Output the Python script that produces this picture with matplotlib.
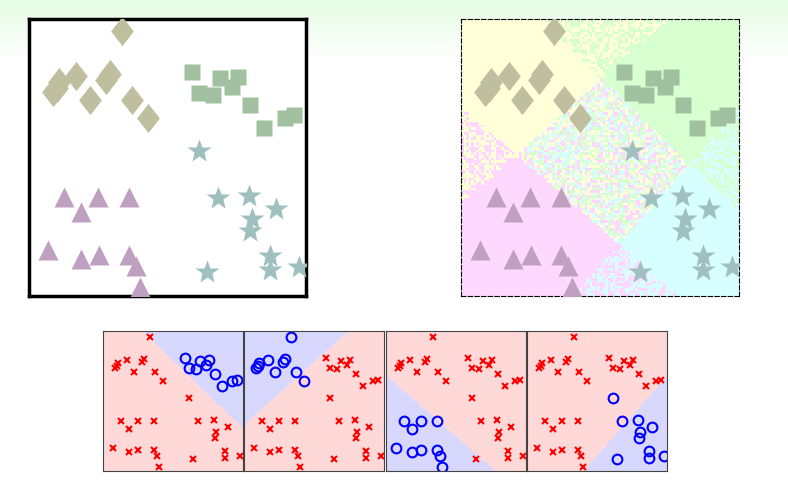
import numpy as np
import matplotlib
matplotlib.use("Agg")
import matplotlib.pyplot as plt
from matplotlib.colors import ListedColormap, to_rgb

# data (normalized 0..100 coordinates)
diam_x = [33.6, 8.6, 10.7, 17.1, 27.9, 29.3, 22.1, 37.1, 42.9, 10.0]
diam_y = [95.7, 73.6, 77.1, 79.3, 77.9, 80.0, 70.7, 70.7, 64.3, 75.0]
sq_x = [58.8, 69.0, 75.5, 73.3, 61.4, 66.4, 79.8, 84.8, 92.4, 95.7]
sq_y = [80.9, 78.7, 79.1, 75.5, 73.3, 72.6, 69.0, 60.6, 64.3, 65.3]
tri_x = [12.6, 24.9, 36.1, 18.8, 6.9, 18.8, 25.3, 36.1, 38.6, 40.1]
tri_y = [35.7, 35.7, 35.7, 30.3, 16.6, 13.4, 14.8, 14.8, 10.8, 3.2]
star_x = [61.4, 68.2, 79.4, 89.2, 80.5, 79.8, 87.0, 87.0, 97.5, 64.3]
star_y = [52.3, 35.4, 36.1, 31.4, 27.8, 23.5, 14.4, 9.4, 10.5, 8.7]

diamond = [(0, 1), (0.78, 0), (0, -1), (-0.78, 0), (0, 1)]
markers = {'diam': (diamond, '#bfbf9f', 21), 'sq': ('s', '#a0c0a0', 11),
           'tri': ('^', '#c0a0c0', 15), 'star': ('*', '#a0c0c0', 18)}
top_sets = [('diam', diam_x, diam_y), ('sq', sq_x, sq_y), ('tri', tri_x, tri_y), ('star', star_x, star_y)]
region_cols = {'diam': '#ffffd8', 'sq': '#d8ffd0', 'tri': '#ffd8ff', 'star': '#d8ffff'}

allx = np.array(diam_x + sq_x + tri_x + star_x, float)
ally = np.array(diam_y + sq_y + tri_y + star_y, float)
labels = np.repeat(np.arange(4), 10)  # 0 diam,1 sq,2 tri,3 star
A = np.c_[allx, ally, np.ones_like(allx)]
W = {}
for k in range(4):
    t = np.where(labels == k, 1.0, -1.0)
    W[k] = np.linalg.lstsq(A, t, rcond=None)[0]

fig = plt.figure(figsize=(7.88, 4.88), dpi=100)
bg = fig.add_axes([0, 0, 1, 1], zorder=-10)
grad = np.ones((488, 1, 3))
top = np.array(to_rgb('#e6fce4'))
for i in range(488):
    f = min(i / 60.0, 1.0)
    grad[i, 0] = top * (1 - f) + np.ones(3) * f
bg.imshow(grad, aspect='auto', extent=[0, 1, 0, 1])
bg.axis('off')

def draw_top(ax):
    for name, xs, ys in top_sets:
        m, c, s = markers[name]
        ax.plot(xs, ys, marker=m, color=c, ms=s, mec='none', ls='none', zorder=3)
    ax.set_xlim(0, 100); ax.set_ylim(0, 100)
    ax.set_xticks([]); ax.set_yticks([])

ax1 = fig.add_axes([29/788, 192/488, 277/788, 277/488])
draw_top(ax1)
for s in ax1.spines.values():
    s.set_linewidth(2.5)

ax2 = fig.add_axes([461/788, 192/488, 278/788, 277/488])
n = 110
g = (np.arange(n) + 0.5) / n * 100
GX, GY = np.meshgrid(g, g)
scores = np.stack([W[k][0]*GX + W[k][1]*GY + W[k][2] for k in range(4)], -1)
rng = np.random.default_rng(3)
names = ['diam', 'sq', 'tri', 'star']
img = np.zeros((n, n, 3))
for i in range(n):
    for j in range(n):
        pos = [k for k in range(4) if scores[i, j, k] > 0]
        if len(pos) == 1:
            k = pos[0]
        elif len(pos) > 1:
            k = rng.choice(pos)
        else:
            k = rng.integers(4)
        img[i, j] = to_rgb(region_cols[names[k]])
ax2.imshow(img, origin='lower', extent=[0, 100, 0, 100], interpolation='nearest', zorder=0)
draw_top(ax2)
ax2.set_aspect('auto')
for s in ax2.spines.values():
    s.set_linewidth(0.8); s.set_linestyle((0, (4, 2)))

lefts = [103, 244, 386, 527]
order = [1, 0, 2, 3]
cmap = ListedColormap(['#ffd8d8', '#d8d8ff'])
for p, k in enumerate(order):
    ax = fig.add_axes([lefts[p]/788, 17/488, 140/788, 140/488])
    sc = W[k][0]*GX + W[k][1]*GY + W[k][2]
    ax.imshow((sc > 0).astype(int), origin='lower', extent=[0, 100, 0, 100], cmap=cmap,
              vmin=0, vmax=1, interpolation='nearest')
    m = labels == k
    ax.plot(allx[~m], ally[~m], 'x', color='red', ms=4, mew=1.5, ls='none')
    ax.plot(allx[m], ally[m], 'o', color='blue', ms=7, mew=1.5, mfc='none', ls='none')
    ax.set_xlim(0, 100); ax.set_ylim(0, 100)
    ax.set_aspect('auto')
    ax.set_xticks([]); ax.set_yticks([])
    for s in ax.spines.values():
        s.set_linewidth(0.8); s.set_color('#444444')

fig.savefig('out.png', dpi=100)
